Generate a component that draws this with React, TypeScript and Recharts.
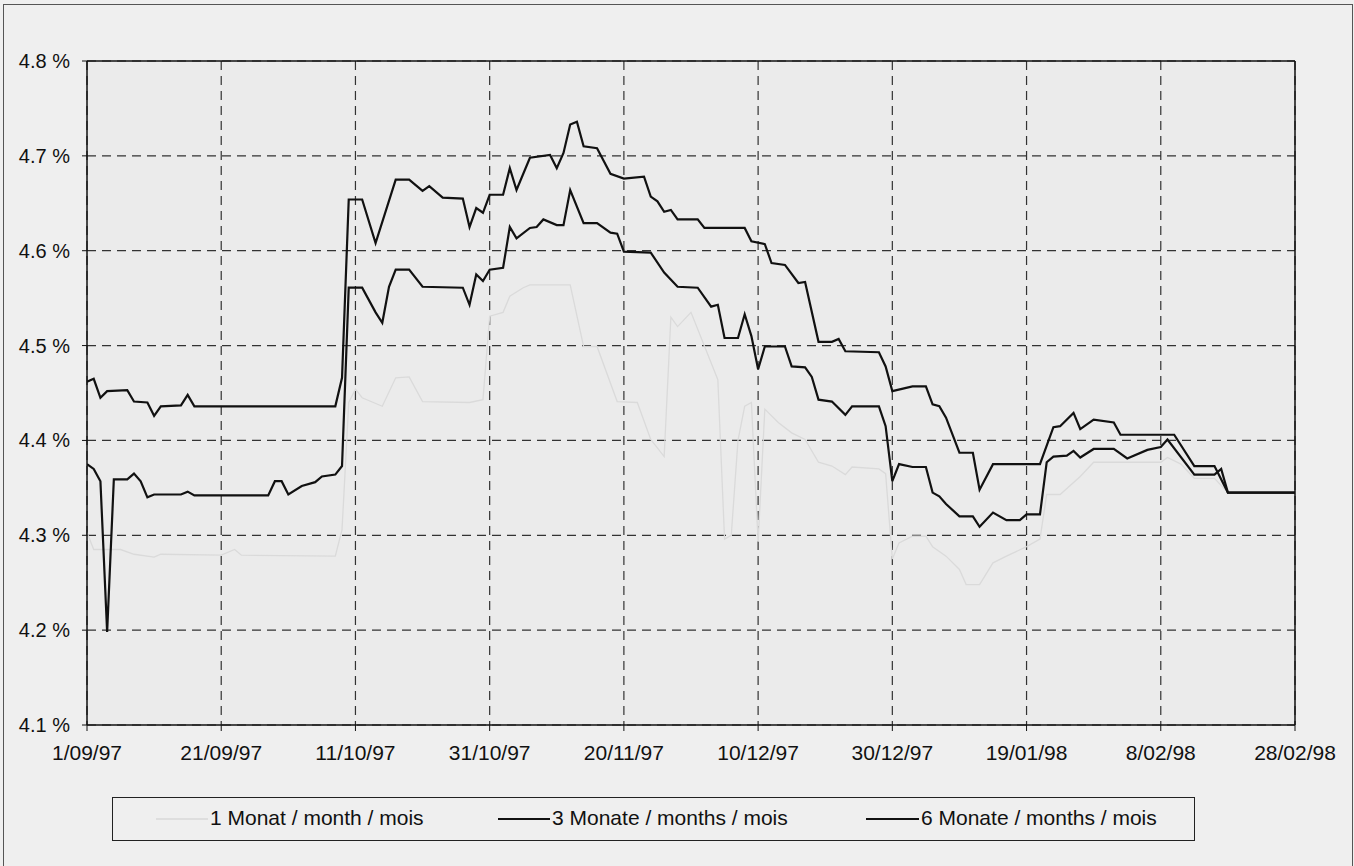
import React from 'react';
import { LineChart, Line, XAxis, YAxis, CartesianGrid, ReferenceLine } from 'recharts';

// x = day offset from 1/09/97
const tickDays = [0, 20, 40, 60, 80, 100, 120, 140, 160, 180];
const tickLabels = ['1/09/97', '21/09/97', '11/10/97', '31/10/97', '20/11/97', '10/12/97', '30/12/97', '19/01/98', '8/02/98', '28/02/98'];
const yTicks = [4.1, 4.2, 4.3, 4.4, 4.5, 4.6, 4.7, 4.8];
const yTickLabels = ['4.1 %', '4.2 %', '4.3 %', '4.4 %', '4.5 %', '4.6 %', '4.7 %', '4.8 %'];

const seriesNames = ['1 Monat / month / mois', '3 Monate / months / mois', '6 Monate / months / mois'];

const m1Days = [0, 1, 5, 7, 10, 11, 20, 22, 23, 37, 38, 39, 40, 41, 44, 46, 48, 50, 57, 59, 60, 62, 63, 65, 66, 72, 74, 76, 79, 82, 84, 86, 87, 88, 90, 94, 95, 96, 97, 98, 99, 100, 101, 103, 105, 107, 109, 111, 113, 114, 118, 119, 120, 121, 123, 125, 126, 128, 130, 131, 133, 135, 137, 140, 142, 143, 145, 148, 150, 160, 161, 163, 165, 168, 170, 180];
const m1Values = [4.303, 4.285, 4.285, 4.28, 4.277, 4.28, 4.279, 4.285, 4.279, 4.278, 4.306, 4.44, 4.454, 4.445, 4.436, 4.466, 4.467, 4.441, 4.44, 4.443, 4.531, 4.535, 4.552, 4.561, 4.564, 4.564, 4.499, 4.499, 4.441, 4.44, 4.401, 4.383, 4.53, 4.52, 4.535, 4.464, 4.296, 4.3, 4.4, 4.436, 4.44, 4.293, 4.433, 4.419, 4.408, 4.401, 4.377, 4.373, 4.364, 4.372, 4.37, 4.365, 4.275, 4.292, 4.299, 4.299, 4.288, 4.278, 4.264, 4.248, 4.248, 4.271, 4.278, 4.288, 4.296, 4.343, 4.343, 4.362, 4.377, 4.377, 4.382, 4.375, 4.36, 4.36, 4.345, 4.345];

const m3Days = [0, 1, 2, 3, 4, 6, 7, 8, 9, 10, 14, 15, 16, 27, 28, 29, 30, 32, 34, 35, 37, 38, 39, 41, 43, 44, 45, 46, 48, 50, 56, 57, 58, 59, 60, 62, 63, 64, 66, 67, 68, 70, 71, 72, 74, 76, 78, 79, 80, 84, 86, 88, 91, 93, 94, 95, 97, 98, 99, 100, 101, 104, 105, 107, 108, 109, 111, 113, 114, 118, 119, 120, 121, 123, 125, 126, 127, 128, 130, 132, 133, 135, 137, 139, 140, 142, 143, 144, 146, 147, 148, 150, 153, 155, 158, 160, 161, 165, 168, 169, 170, 180];
const m3Values = [4.375, 4.37, 4.357, 4.198, 4.359, 4.359, 4.365, 4.357, 4.34, 4.343, 4.343, 4.346, 4.342, 4.342, 4.357, 4.357, 4.343, 4.352, 4.356, 4.362, 4.364, 4.373, 4.561, 4.561, 4.535, 4.524, 4.562, 4.58, 4.58, 4.562, 4.561, 4.543, 4.575, 4.568, 4.58, 4.582, 4.625, 4.613, 4.624, 4.625, 4.633, 4.627, 4.627, 4.664, 4.629, 4.629, 4.619, 4.618, 4.599, 4.598, 4.577, 4.562, 4.561, 4.541, 4.543, 4.508, 4.508, 4.533, 4.51, 4.475, 4.499, 4.499, 4.478, 4.477, 4.467, 4.443, 4.441, 4.427, 4.436, 4.436, 4.415, 4.357, 4.375, 4.372, 4.372, 4.345, 4.341, 4.333, 4.32, 4.32, 4.309, 4.324, 4.316, 4.316, 4.322, 4.322, 4.377, 4.383, 4.384, 4.389, 4.382, 4.391, 4.391, 4.381, 4.39, 4.393, 4.401, 4.364, 4.364, 4.37, 4.345, 4.345];

const m6Days = [0, 1, 2, 3, 6, 7, 9, 10, 11, 14, 15, 16, 37, 38, 39, 41, 43, 46, 48, 50, 51, 53, 56, 57, 58, 59, 60, 62, 63, 64, 66, 69, 70, 71, 72, 73, 74, 76, 78, 80, 83, 84, 85, 86, 87, 88, 91, 92, 98, 99, 101, 102, 104, 106, 107, 109, 111, 112, 113, 118, 119, 120, 123, 125, 126, 127, 128, 130, 132, 133, 135, 142, 144, 145, 147, 148, 150, 153, 154, 162, 165, 168, 170, 180];
const m6Values = [4.462, 4.465, 4.445, 4.452, 4.453, 4.441, 4.44, 4.426, 4.436, 4.437, 4.448, 4.436, 4.436, 4.466, 4.654, 4.654, 4.608, 4.675, 4.675, 4.663, 4.668, 4.656, 4.655, 4.625, 4.645, 4.64, 4.659, 4.659, 4.687, 4.664, 4.698, 4.701, 4.687, 4.703, 4.733, 4.736, 4.71, 4.708, 4.681, 4.676, 4.678, 4.657, 4.652, 4.641, 4.643, 4.633, 4.633, 4.624, 4.624, 4.61, 4.607, 4.587, 4.585, 4.566, 4.567, 4.504, 4.504, 4.507, 4.494, 4.493, 4.478, 4.452, 4.457, 4.457, 4.438, 4.436, 4.424, 4.387, 4.387, 4.348, 4.375, 4.375, 4.414, 4.415, 4.429, 4.412, 4.422, 4.419, 4.406, 4.406, 4.373, 4.373, 4.345, 4.345];

const build = (days: number[], vals: number[]) => days.map((d, i) => ({ d, v: vals[i] }));
const m1Data = build(m1Days, m1Values);
const m3Data = build(m3Days, m3Values);
const m6Data = build(m6Days, m6Values);

const FONT = '"Liberation Sans", Arial, sans-serif';

const YTick = (props: any) => {
  const { x, y, payload } = props;
  const idx = yTicks.indexOf(payload.value);
  return (
    <text x={x} y={y} textAnchor="end" dominantBaseline="central" fontSize={20} fontFamily={FONT} fill="#111">
      {idx >= 0 ? yTickLabels[idx] : payload.value}
    </text>
  );
};

const XTick = (props: any) => {
  const { x, y, payload } = props;
  const idx = tickDays.indexOf(payload.value);
  return (
    <text x={x} y={y} textAnchor="middle" dominantBaseline="central" fontSize={21} fontFamily={FONT} fill="#111">
      {idx >= 0 ? tickLabels[idx] : payload.value}
    </text>
  );
};

const legendItems = [
  { name: seriesNames[0], color: '#dedede', lineLeft: 155, textLeft: 207 },
  { name: seriesNames[1], color: '#111', lineLeft: 497, textLeft: 549 },
  { name: seriesNames[2], color: '#111', lineLeft: 865, textLeft: 918 },
];

export default function App() {
  return (
    <div style={{ position: 'absolute', left: 0, top: 0, width: 1354, height: 866, background: '#efefef', overflow: 'hidden' }}>
      <div style={{ position: 'absolute', left: 3, top: 4, width: 1348, height: 900, border: '1px solid #555', pointerEvents: 'none' }} />
      <LineChart width={1354} height={866} margin={{ top: 61, right: 59, bottom: 101, left: 0 }}>
        <CartesianGrid stroke="#333" strokeDasharray="9 6" strokeWidth={1.2} fill="#ebebeb" fillOpacity={1} horizontal vertical />
        <XAxis
          type="number"
          dataKey="d"
          domain={[0, 180]}
          ticks={tickDays}
          interval={0}
          height={40}
          tickSize={6}
          tickMargin={21}
          tick={<XTick />}
          stroke="#111"
          axisLine={{ stroke: '#111', strokeWidth: 1.5 }}
          tickLine={{ stroke: '#111' }}
          allowDataOverflow
        />
        <YAxis
          type="number"
          domain={[4.1, 4.8]}
          ticks={yTicks}
          interval={0}
          width={87}
          tickSize={5}
          tickMargin={12}
          tick={<YTick />}
          axisLine={{ stroke: '#111', strokeWidth: 1.5 }}
          tickLine={{ stroke: '#111' }}
          allowDataOverflow
        />
        <ReferenceLine y={4.8} stroke="#111" strokeWidth={1.5} />
        <ReferenceLine x={180} stroke="#111" strokeWidth={1.5} />
        <Line data={m1Data} dataKey="v" name={seriesNames[0]} stroke="#dadada" strokeWidth={1.3} dot={false} isAnimationActive={false} />
        <Line data={m3Data} dataKey="v" name={seriesNames[1]} stroke="#111" strokeWidth={2.2} dot={false} isAnimationActive={false} />
        <Line data={m6Data} dataKey="v" name={seriesNames[2]} stroke="#111" strokeWidth={2.2} dot={false} isAnimationActive={false} />
      </LineChart>
      <div style={{ position: 'absolute', left: 112, top: 797, width: 1083, height: 44, border: '1.5px solid #222', boxSizing: 'border-box' }}>
        {legendItems.map((it) => (
          <React.Fragment key={it.name}>
            <div style={{ position: 'absolute', left: it.lineLeft - 112, top: 20, width: it.textLeft - it.lineLeft, height: 0, borderTop: `2px solid ${it.color}` }} />
            <div style={{ position: 'absolute', left: it.textLeft - 112 + 2, top: 8, fontSize: 21, fontFamily: FONT, color: '#111', whiteSpace: 'nowrap', lineHeight: '24px' }}>{it.name}</div>
          </React.Fragment>
        ))}
      </div>
    </div>
  );
}
